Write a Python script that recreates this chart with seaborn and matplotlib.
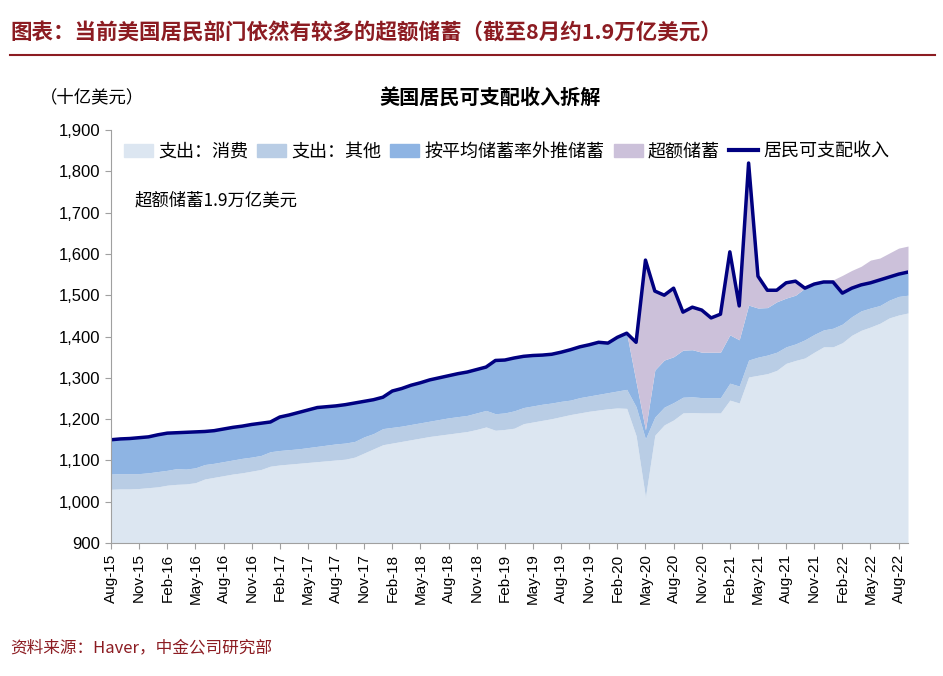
import matplotlib
matplotlib.use("Agg")
import matplotlib.pyplot as plt
import seaborn as sns
import numpy as np
import pandas as pd
from matplotlib.patches import Patch
from matplotlib.lines import Line2D

plt.rcParams["font.family"] = ["Noto Sans CJK SC", "DejaVu Sans"]

months = pd.date_range("2015-08-01", "2022-09-01", freq="MS")
tick_labels = [d.strftime("%b-%y") for d in months[::3]]

income = [1150,1152,1153,1155,1157,1162,1166,1167,1168,1169,
          1170,1172,1176,1180,1183,1187,1190,1193,1205,1210,
          1216,1222,1228,1230,1232,1235,1239,1243,1247,1253,
          1268,1274,1282,1288,1295,1300,1305,1310,1314,1320,
          1326,1342,1343,1348,1352,1354,1355,1357,1362,1368,
          1375,1380,1386,1384,1398,1408,1386,1585,1510,1500,
          1517,1459,1471,1464,1445,1454,1605,1474,1820,1546,
          1512,1512,1530,1534,1517,1527,1532,1532,1505,1517,
          1525,1530,1537,1544,1551,1556]
trend_top = income[:56] + [1290,1174,1319,1343,1351,1367,1368,1362,1362,1362,
                           1404,1392,1476,1469,1470,1484,1493,1500,1517,1527,
                           1532,1532,1505,1517,1525,1530,1537,1544,1551,1556]
excess_top = income[:77] + [1537,1548,1560,1570,1585,1590,1602,1614,1619]
other_top = [1067,1068,1068,1068,1070,1073,1076,1080,1079,1082,
             1090,1093,1097,1101,1105,1108,1112,1121,1124,1126,
             1128,1131,1134,1137,1140,1142,1146,1157,1165,1177,
             1180,1183,1187,1191,1195,1199,1203,1206,1209,1215,
             1221,1213,1215,1220,1228,1232,1236,1239,1243,1246,
             1252,1256,1260,1264,1268,1272,1230,1152,1205,1229,
             1240,1253,1254,1252,1252,1252,1287,1280,1343,1350,
             1355,1362,1375,1382,1392,1405,1416,1420,1430,1448,
             1462,1469,1475,1488,1497,1500]
consumption = [1030,1031,1031,1032,1034,1036,1040,1042,1043,1046,
               1055,1059,1063,1067,1070,1074,1078,1086,1089,1091,
               1093,1095,1097,1099,1101,1103,1108,1118,1128,1138,
               1142,1146,1150,1154,1158,1161,1164,1167,1170,1175,
               1181,1173,1175,1178,1189,1193,1197,1201,1206,1211,
               1215,1219,1222,1225,1227,1226,1160,1011,1161,1186,
               1198,1215,1216,1215,1215,1215,1246,1239,1302,1306,
               1310,1318,1335,1342,1348,1362,1375,1375,1385,1403,
               1415,1423,1432,1445,1452,1457]

df = pd.DataFrame({"idx": np.arange(len(months)), "income": income})
x = df["idx"].values

fig = plt.figure(figsize=(9.43, 6.76), dpi=100)
ax = fig.add_axes([111/943, 1-543/676, (908-111)/943, (543-130)/676])

c_cons, c_oth, c_tr, c_ex, c_line = "#dce6f1", "#b9cde5", "#8eb4e3", "#ccc1da", "#000080"
ax.fill_between(x, 900, consumption, color=c_cons, lw=0)
ax.fill_between(x, consumption, other_top, color=c_oth, lw=0)
ax.fill_between(x, other_top, trend_top, color=c_tr, lw=0)
ax.fill_between(x, trend_top, excess_top, color=c_ex, lw=0)
sns.lineplot(data=df, x="idx", y="income", ax=ax, color=c_line, lw=2.5)

ax.set_xlim(0, len(months) - 1)
ax.set_ylim(900, 1900)
ax.set_yticks(range(900, 1901, 100))
ax.set_yticklabels([f"{v:,}" for v in range(900, 1901, 100)], fontsize=12, fontfamily="Liberation Sans")
ax.set_xticks(x[::3])
ax.set_xticklabels(tick_labels, rotation=90, fontsize=11, fontfamily="Liberation Sans")
ax.set_xlabel(""); ax.set_ylabel("")
for s in ["top", "right"]:
    ax.spines[s].set_visible(False)
for s in ["left", "bottom"]:
    ax.spines[s].set_color("#a0a0a0")
ax.tick_params(colors="#a0a0a0", labelcolor="black", length=4)

handles = [Patch(color=c_cons), Patch(color=c_oth), Patch(color=c_tr), Patch(color=c_ex),
           Line2D([], [], color=c_line, lw=3)]
labels = ["支出：消费", "支出：其他", "按平均储蓄率外推储蓄", "超额储蓄", "居民可支配收入"]
ax.legend(handles, labels, loc="upper left", bbox_to_anchor=(0.0, 1.0), ncol=5, frameon=False,
          fontsize=13, handlelength=1.6, columnspacing=0.5, handletextpad=0.3, borderaxespad=0.3)
ax.text(0.03, 0.83, "超额储蓄1.9万亿美元", transform=ax.transAxes, fontsize=12.5, va="center")

fig.text(10/943, 1-32/676, "图表：当前美国居民部门依然有较多的超额储蓄（截至8月约1.9万亿美元）",
         color="#8c1c22", fontsize=15.5, fontweight="bold", va="center")
fig.add_artist(Line2D([10/943, 935/943], [1-55/676, 1-55/676], color="#8c1c22", lw=1.5))
fig.text(490/943, 1-97/676, "美国居民可支配收入拆解", fontsize=14.5, fontweight="bold", ha="center", va="center")
fig.text(40/943, 1-97/676, "（十亿美元）", fontsize=12.5, va="center")
fig.text(10/943, 1-648/676, "资料来源：Haver，中金公司研究部", color="#8c1c22", fontsize=12, va="center")

fig.savefig("out.png", dpi=100)
